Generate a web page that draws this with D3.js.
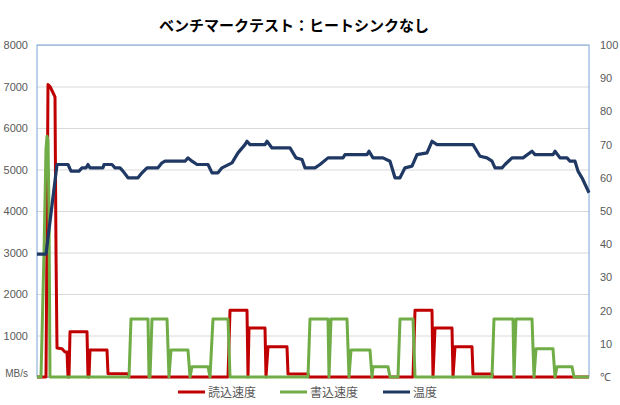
<!DOCTYPE html>
<html>
<head>
<meta charset="utf-8">
<script src="https://cdn.jsdelivr.net/npm/d3@7"></script>
<style>
  body { margin: 0; background: #fff; }
  svg text { fill: #595959; }
</style>
</head>
<body>
<div id="chart-area"></div>
<script>
// title and series names
var title = "ベンチマークテスト：ヒートシンクなし";
var seriesNames = ["読込速度", "書込速度", "温度"];

// tick labels
var leftTicks = [0, 1000, 2000, 3000, 4000, 5000, 6000, 7000, 8000];
var rightTicks = [0, 10, 20, 30, 40, 50, 60, 70, 80, 90, 100];

// read speed (MB/s), [time, value]
var readSpeed = [[0,0],[9,0],[11,7050],[13,7000],[16,6850],[18,6750],[19,3000],[20,700],[25,680],[28,600],[30,600],[31,0],[32,0],
  [33,1090],[50,1090],[51,0],[52,0],[53,650],[70,650],[71,80],[91,80],[92,0],[191,0],
  [193,1610],[210,1610],[211,0],[212,1180],[228,1180],[229,0],[231,730],[250,730],[251,70],[271,70],[272,0],[376,0],
  [378,1610],[395,1610],[396,0],[398,1180],[415,1180],[416,0],[418,730],[435,730],[436,70],[455,70],[456,0],[552,0]];

// write speed (MB/s), [time, value]
var writeSpeed = [[0,0],[4,0],[7,3000],[9,5500],[10,5800],[11,5700],[12,4000],[13,0],[92,0],
  [94,1400],[111,1400],[112,0],[113,0],[115,1400],[130,1400],[132,0],[134,650],[151,650],[153,0],[155,250],[171,250],[173,0],
  [176,1400],[191,1400],[193,0],[271,0],
  [273,1400],[291,1400],[292,0],[294,1400],[310,1400],[312,0],[314,650],[333,650],[335,0],[336,250],[351,250],[353,0],[361,0],
  [363,1400],[376,1400],[378,0],[455,0],
  [457,1400],[476,1400],[477,0],[479,1400],[495,1400],[497,0],[499,680],[516,680],[518,0],[520,250],[535,250],[537,0],[552,0]];

// temperature (°C), [time, value]
var temperature = [[0,37],[9,37],[20,64],[31,64],[34,62],[42,62],[45,63],[49,63],[51,64],[53,63],[66,63],[67,64],[75,64],
  [78,63],[83,63],[86,62],[91,60],[101,60],[105,61.5],[110,63],[121,63],[125,64.5],[128,65],[148,65],[151,66],[155,65],
  [160,64],[171,64],[175,61.5],[181,61.5],[185,63],[195,64.5],[201,67.5],[208,70],[210,71],[213,70],[228,70],[230,71],
  [235,69],[253,69],[259,66],[265,65.5],[268,63],[278,63],[283,64],[291,66],[306,66],[308,67],[330,67],[332,68],[336,66],
  [346,66],[353,65],[358,60],[363,60],[368,63],[375,63.5],[380,67],[390,67.5],[395,71],[400,70],[436,70],[443,66.5],
  [450,66],[455,65],[458,63],[465,63],[468,64],[475,66],[486,66],[495,68],[498,67],[516,67],[518,68],[523,66],[530,66],
  [533,65],[538,65],[541,62],[545,60],[552,55.5]];

var colors = ["#C00000", "#70AD47", "#1F3864"];

// Chart area
var margin = {top: 45, right: 31, bottom: 28, left: 37},
    width = 620 - margin.left - margin.right,
    height = 405 - margin.top - margin.bottom;

var svg = d3.select("#chart-area").append("svg")
    .attr("width", 620)
    .attr("height", 405)
    .style("font-family", "'Liberation Sans', Arial, sans-serif");

var g = svg.append("g")
    .attr("transform", "translate(" + margin.left + "," + margin.top + ")");

var x = d3.scaleLinear().domain([0, 552]).range([0, width]);
var yLeft = d3.scaleLinear().domain([0, 8000]).range([height, 0]);
var yRight = d3.scaleLinear().domain([0, 100]).range([height, 0]);

// gridlines
g.append("g")
    .attr("class", "grid")
    .call(d3.axisLeft(yLeft).tickValues(leftTicks).tickSize(-width).tickFormat(""))
    .call(function (s) {
        s.select(".domain").remove();
        s.selectAll("line").attr("stroke", "#D9D9D9").attr("stroke-width", 1);
    });

// plot border
g.append("rect")
    .attr("x", 0).attr("y", 0)
    .attr("width", width).attr("height", height)
    .attr("fill", "none")
    .attr("stroke", "#7BA6D6")
    .attr("stroke-width", 1);

// left axis
g.append("g")
    .call(d3.axisLeft(yLeft).tickValues(leftTicks).tickSize(0).tickPadding(9)
        .tickFormat(function (d) { return d === 0 ? "MB/s" : d; }))
    .call(function (s) {
        s.select(".domain").remove();
        s.selectAll("text").attr("fill", "#595959").style("font-size", "11px");
        s.selectAll("text").filter(function (d) { return d === 0; })
            .style("font-size", "10px").attr("dy", "-0.05em");
    });

// right axis
g.append("g")
    .attr("transform", "translate(" + width + ",0)")
    .call(d3.axisRight(yRight).tickValues(rightTicks).tickSize(0).tickPadding(11)
        .tickFormat(function (d) { return d === 0 ? "℃" : d; }))
    .call(function (s) {
        s.select(".domain").remove();
        s.selectAll("text").attr("fill", "#595959").style("font-size", "11px");
    });

var lineLeft = d3.line()
    .x(function (d) { return x(d[0]); })
    .y(function (d) { return yLeft(d[1]); });

var lineRight = d3.line()
    .x(function (d) { return x(d[0]); })
    .y(function (d) { return yRight(d[1]); });

g.append("path").datum(readSpeed)
    .attr("fill", "none").attr("stroke", colors[0]).attr("stroke-width", 3)
    .attr("stroke-linejoin", "round")
    .attr("d", lineLeft);

g.append("path").datum(writeSpeed)
    .attr("fill", "none").attr("stroke", colors[1]).attr("stroke-width", 3)
    .attr("stroke-linejoin", "round")
    .attr("d", lineLeft);

g.append("path").datum(temperature)
    .attr("fill", "none").attr("stroke", colors[2]).attr("stroke-width", 3.2)
    .attr("stroke-linejoin", "round")
    .attr("d", lineRight);

// title
svg.append("text")
    .attr("x", 294).attr("y", 31)
    .attr("text-anchor", "middle")
    .style("font-family", "'Noto Sans CJK JP', sans-serif")
    .style("font-size", "15px")
    .style("font-weight", "bold")
    .style("fill", "#000")
    .text(title);

// legend
var legendX = [178, 280, 383];
var legend = svg.append("g")
    .style("font-family", "'Noto Sans CJK JP', sans-serif")
    .style("font-size", "12px");

seriesNames.forEach(function (name, i) {
    legend.append("line")
        .attr("x1", legendX[i]).attr("x2", legendX[i] + 27)
        .attr("y1", 392).attr("y2", 392)
        .attr("stroke", colors[i]).attr("stroke-width", 3);
    legend.append("text")
        .attr("x", legendX[i] + 30).attr("y", 396.5)
        .style("fill", "#595959")
        .text(name);
});
</script>
</body>
</html>
